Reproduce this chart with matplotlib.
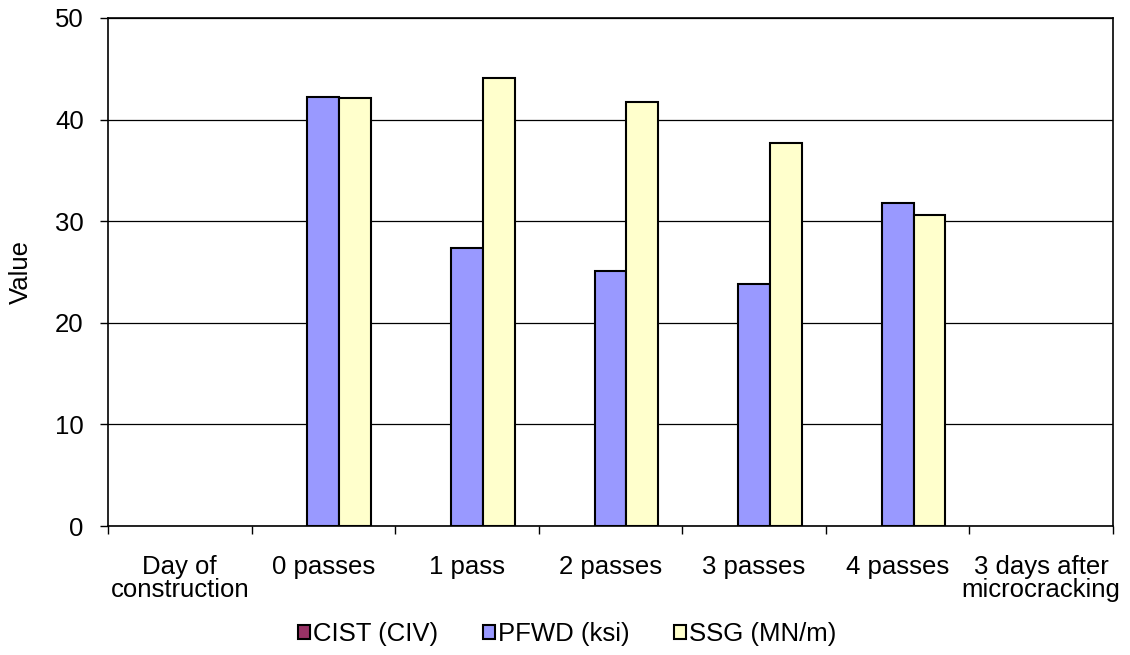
import matplotlib
matplotlib.use("Agg")
import matplotlib.pyplot as plt
import numpy as np

plt.rcParams['font.family'] = ['Liberation Sans', 'DejaVu Sans']

categories = ["Day of\nconstruction", "0 passes", "1 pass", "2 passes",
              "3 passes", "4 passes", "3 days after\nmicrocracking"]
cist = [np.nan, np.nan, np.nan, np.nan, np.nan, np.nan, np.nan]
pfwd = [np.nan, 42.2, 27.4, 25.1, 23.8, 31.8, np.nan]
ssg = [np.nan, 42.1, 44.1, 41.7, 37.7, 30.6, np.nan]

series = [("CIST (CIV)", cist, "#993366"),
          ("PFWD (ksi)", pfwd, "#9999FF"),
          ("SSG (MN/m)", ssg, "#FFFFCC")]

FS = 18.5

fig = plt.figure(figsize=(11.3, 6.55), dpi=100)
ax = fig.add_axes([108 / 1130, 1 - 526 / 655, 1005 / 1130, 508 / 655])

x = np.arange(len(categories))
w = 0.2222
for i, (name, vals, col) in enumerate(series):
    ax.bar(x + (i - 1) * w, vals, width=w, color=col, edgecolor="black",
           linewidth=1.5, label=name, zorder=3)

ax.set_xlim(-0.5, len(categories) - 0.5)
ax.set_ylim(0, 50)
ax.set_yticks(range(0, 51, 10))
ax.yaxis.grid(True, color="black", linewidth=0.9, zorder=0)
ax.set_axisbelow(True)

ax.set_xticks(x)
ax.set_xticklabels(categories, fontsize=FS, linespacing=0.95)
ax.tick_params(axis="x", length=0, pad=21)
ax.set_xticks(np.arange(-0.5, len(categories), 1), minor=True)
ax.tick_params(axis="x", which="minor", length=5.5, width=1, color="black")
ax.tick_params(axis="y", labelsize=FS, length=5.5, width=1, color="black", pad=12)

for s in ax.spines.values():
    s.set_linewidth(1.2)
    s.set_color("black")

ax.set_ylabel("Value", fontsize=FS, labelpad=16)

fig.legend(loc="center", bbox_to_anchor=(0.502, 1 - 634 / 655),
           ncol=3, frameon=False, fontsize=FS, handlelength=0.47,
           handleheight=0.47, handletextpad=0.1, columnspacing=1.75)

fig.savefig("out.png", dpi=100)
